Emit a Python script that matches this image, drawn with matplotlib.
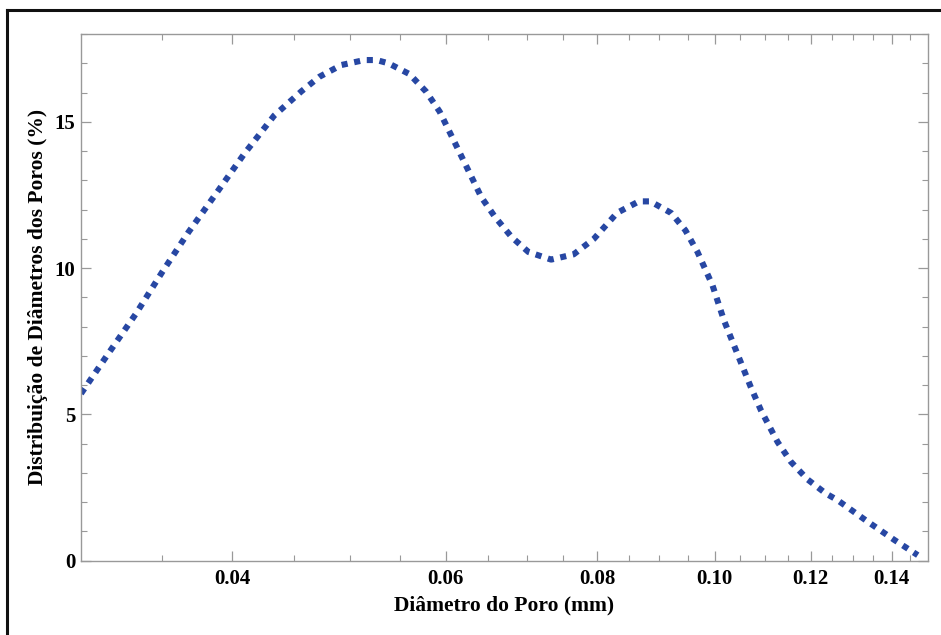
import matplotlib
matplotlib.use("Agg")
import matplotlib.pyplot as plt
from matplotlib.ticker import FixedLocator, NullFormatter, MultipleLocator
from matplotlib.lines import Line2D

# Data
diameter_mm = [0.0300, 0.0316, 0.0333, 0.0350, 0.0368, 0.0388, 0.0409, 0.0433,
               0.0456, 0.0472, 0.0492, 0.0514, 0.0526, 0.0538, 0.0560, 0.0578,
               0.0593, 0.0611, 0.0642, 0.0659, 0.0680, 0.0702, 0.0733, 0.0765,
               0.0795, 0.0831, 0.0866, 0.0885, 0.0921, 0.0946, 0.0968, 0.0996,
               0.1018, 0.1044, 0.1071, 0.1092, 0.1127, 0.1156, 0.1193, 0.1235,
               0.1263, 0.1338, 0.1407, 0.1471]
distribution_pct = [5.71, 7.08, 8.44, 9.86, 11.23, 12.56, 13.90, 15.21,
                    16.04, 16.54, 16.94, 17.11, 17.11, 17.00, 16.63, 16.03,
                    15.35, 14.25, 12.42, 11.74, 11.06, 10.55, 10.29, 10.47,
                    11.00, 11.89, 12.28, 12.28, 11.88, 11.29, 10.55, 9.41,
                    8.21, 7.08, 5.94, 5.14, 4.06, 3.38, 2.78, 2.30,
                    2.07, 1.33, 0.71, 0.19]

x_major = [0.04, 0.06, 0.08, 0.10, 0.12, 0.14]
x_major_labels = ["0.04", "0.06", "0.08", "0.10", "0.12", "0.14"]
x_minor = [0.035, 0.045, 0.05, 0.055, 0.065, 0.07, 0.075, 0.085, 0.09, 0.095,
           0.105, 0.11, 0.115, 0.125, 0.13, 0.135, 0.145]
y_major = [0, 5, 10, 15]
y_major_labels = ["0", "5", "10", "15"]

plt.rcParams['font.family'] = ['Liberation Serif', 'DejaVu Serif']

fig = plt.figure(figsize=(9.41, 6.35), dpi=100)
ax = fig.add_axes([81/941, 1 - 560.7/635, (928 - 81)/941, (560.7 - 34)/635])

ax.plot(diameter_mm, distribution_pct, color='#2747a3', linewidth=4.4,
        linestyle=(0, (1.0, 1.1)), dash_capstyle='butt', solid_capstyle='butt')

ax.set_xscale('log')
ax.set_xlim(0.03, 0.15)
ax.set_ylim(0, 18)

ax.set_xticks(x_major)
ax.set_xticklabels(x_major_labels)
ax.xaxis.set_minor_locator(FixedLocator(x_minor))
ax.xaxis.set_minor_formatter(NullFormatter())
ax.set_yticks(y_major)
ax.set_yticklabels(y_major_labels)
ax.yaxis.set_minor_locator(MultipleLocator(1))

ax.tick_params(which='both', direction='in', top=True, right=True, color='#999999')
ax.tick_params(which='major', length=7, width=0.9, labelsize=15)
ax.tick_params(axis='x', which='major', pad=6)
ax.tick_params(axis='y', which='major', pad=4)
ax.tick_params(which='minor', length=4, width=0.8)
for lab in ax.get_xticklabels() + ax.get_yticklabels():
    lab.set_fontweight('bold')

for sp in ax.spines.values():
    sp.set_color('#999999')
    sp.set_linewidth(1.0)

ax.set_xlabel('Diâmetro do Poro (mm)', fontsize=15.5, fontweight='bold', labelpad=5)
ax.set_ylabel('Distribuição de Diâmetros dos Poros (%)', fontsize=15.5,
              fontweight='bold', labelpad=5)

# outer frame (top and left edges visible)
fig.add_artist(Line2D([7/941, 1.0], [1 - 10/635, 1 - 10/635], color='#111111',
                      linewidth=2.2, transform=fig.transFigure))
fig.add_artist(Line2D([7/941, 7/941], [0.0, 1 - 10/635], color='#111111',
                      linewidth=2.2, transform=fig.transFigure))

fig.savefig('out.png', dpi=100)
